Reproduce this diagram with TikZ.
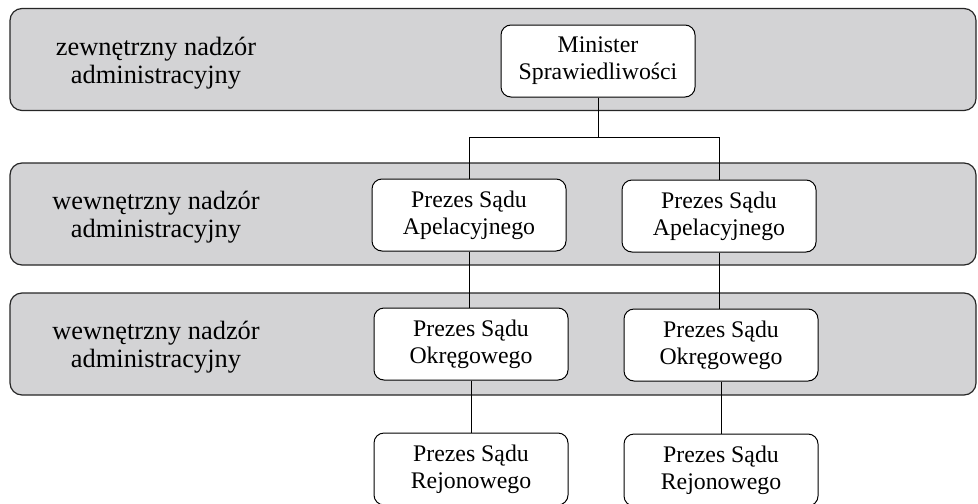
\documentclass[tikz,border=0pt]{standalone}
\usepackage{fontspec}
\setmainfont{Liberation Serif}
\definecolor{bandgray}{RGB}{211,211,213}
\tikzset{
  band/.style={draw=black!85, line width=0.6pt, fill=bandgray, rounded corners=6pt,
    minimum width=483pt, minimum height=51pt, inner sep=0pt},
  bandlabel/.style={align=center, font=\fontsize{13.2}{14}\selectfont},
  office/.style={draw, fill=white, line width=0.5pt, rounded corners=5pt, align=center,
    minimum width=97pt, minimum height=36pt, inner sep=0pt,
    font=\fontsize{11.9}{13.5}\selectfont},
  link/.style={line width=0.5pt}
}
\begin{document}
\begin{tikzpicture}[x=0.5pt,y=-0.5pt]
\useasboundingbox (0,0) rectangle (978,503);
\clip (0,0) rectangle (978,503);
% levels of supervision
\node[band] (lvl1) at (493,59.5) {};
\node[band] (lvl2) at (493,214) {};
\node[band] (lvl3) at (493,344) {};
\node[bandlabel] (lab1) at (156,63) {zewnętrzny nadzór\\administracyjny};
\node[bandlabel] (lab2) at (156,217) {wewnętrzny nadzór\\administracyjny};
\node[bandlabel] (lab3) at (156,347) {wewnętrzny nadzór\\administracyjny};
% offices
\node[office] (min) at (598,61) {Minister\\Sprawiedliwości};
\node[office] (apl1) at (469,215) {Prezes Sądu\\Apelacyjnego};
\node[office] (apl2) at (719,216) {Prezes Sądu\\Apelacyjnego};
\node[office] (okr1) at (471,344) {Prezes Sądu\\Okręgowego};
\node[office] (okr2) at (721,345) {Prezes Sądu\\Okręgowego};
\node[office] (rej1) at (471,469) {Prezes Sądu\\Rejonowego};
\node[office] (rej2) at (721,470) {Prezes Sądu\\Rejonowego};
% connectors
\draw[link] (min.south) -- ++(0,40) coordinate (fork) -| (apl1.north);
\draw[link] (fork) -| (apl2.north);
\draw[link] (apl1.south) -- (apl1.south |- okr1.north);
\draw[link] (apl2.south) -- (apl2.south |- okr2.north);
\draw[link] (okr1.south) -- (rej1.north);
\draw[link] (okr2.south) -- (rej2.north);
\end{tikzpicture}
\end{document}
